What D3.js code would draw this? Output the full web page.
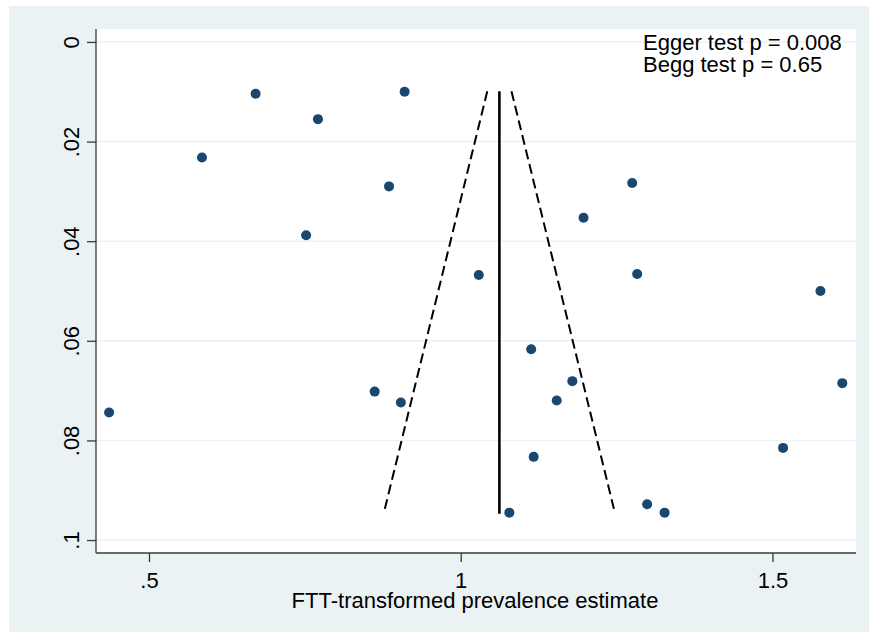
<!DOCTYPE html>
<html><head><meta charset="utf-8">
<script src="https://cdn.jsdelivr.net/npm/d3@7"></script>
<style>body{margin:0;background:#fff}svg{display:block}text{font-family:"Liberation Sans",Arial,Helvetica,sans-serif;fill:#000}</style>
</head><body><div id="chart"></div>
<script>
// Study estimates (FTT-transformed prevalence) and standard errors
const estimates = [0.436,0.585,0.671,0.771,0.910,0.885,0.752,0.862,0.904,1.029,1.113,1.179,1.154,1.117,1.078,1.197,1.275,1.283,1.299,1.327,1.517,1.577,1.612];
const stdErrors = [0.0744,0.0232,0.0104,0.0155,0.0100,0.0290,0.0388,0.0702,0.0724,0.0468,0.0617,0.0681,0.0720,0.0833,0.0945,0.0353,0.0283,0.0466,0.0928,0.0945,0.0815,0.0500,0.0685];
const pooledEstimate = 1.062;
const seRange = [0.0099, 0.0947];
const xTicks = [0.5, 1, 1.5];
const xTickLabels = [".5", "1", "1.5"];
const yTicks = [0, 0.02, 0.04, 0.06, 0.08, 0.1];
const yTickLabels = ["0", ".02", ".04", ".06", ".08", ".1"];
const testLabels = ["Egger test p = 0.008", "Begg test p = 0.65"];
const xTitle = "FTT-transformed prevalence estimate";

const W = 869, H = 632, FS = 22;
const plot = {l: 96, r: 856, t: 29, b: 553};
const svg = d3.select("#chart").append("svg").attr("width", W).attr("height", H);
svg.append("rect").attr("x", 9).attr("y", 6).attr("width", W - 9).attr("height", H - 6).attr("fill", "#eaf2f3");
svg.append("rect").attr("x", plot.l).attr("y", plot.t).attr("width", plot.r - plot.l).attr("height", plot.b - plot.t).attr("fill", "#fff");

const x = d3.scaleLinear().domain([0.415, 1.634]).range([plot.l, plot.r]);
const y = d3.scaleLinear().domain([-0.0026, 0.1026]).range([plot.t, plot.b]);

// gridlines
svg.append("g").selectAll("line").data(yTicks).join("line")
  .attr("x1", plot.l).attr("x2", plot.r).attr("y1", d => y(d)).attr("y2", d => y(d))
  .attr("stroke", "#eaf2f3").attr("stroke-width", 1.6);

// axes
const axColor = "#3a3a3a";
const yAxis = svg.append("g").attr("transform", `translate(${plot.l},0)`)
  .call(d3.axisLeft(y).tickValues(yTicks).tickFormat((d, i) => yTickLabels[i]).tickSize(9).tickSizeOuter(0));
yAxis.select(".domain").attr("d", `M0,${plot.t}V${plot.b}`).attr("stroke", axColor).attr("stroke-width", 1.3);
yAxis.selectAll(".tick line").attr("stroke", axColor).attr("stroke-width", 1.3);
yAxis.selectAll(".tick text").attr("font-size", FS).attr("fill", "#000")
  .attr("transform", "rotate(-90)").attr("x", 0).attr("y", -17).attr("dy", 0).attr("text-anchor", "middle");

const xAxis = svg.append("g").attr("transform", `translate(0,${plot.b})`)
  .call(d3.axisBottom(x).tickValues(xTicks).tickFormat((d, i) => xTickLabels[i]).tickSize(9).tickSizeOuter(0));
xAxis.select(".domain").attr("d", `M${plot.l},0H${plot.r}`).attr("stroke", axColor).attr("stroke-width", 1.3);
xAxis.selectAll(".tick line").attr("stroke", axColor).attr("stroke-width", 1.3);
xAxis.selectAll(".tick text").attr("font-size", FS).attr("fill", "#000").attr("y", 34.5).attr("dy", 0);
svg.selectAll(".tick text").style("font-family", '"Liberation Sans",Arial,sans-serif');

// pooled line
svg.append("line").attr("x1", x(pooledEstimate)).attr("x2", x(pooledEstimate))
  .attr("y1", y(seRange[0])).attr("y2", y(seRange[1])).attr("stroke", "#000").attr("stroke-width", 2.6);

// funnel pseudo-95% CI lines
[-1, 1].forEach(s => {
  svg.append("line")
    .attr("x1", x(pooledEstimate + s * 1.96 * seRange[0])).attr("y1", y(seRange[0]))
    .attr("x2", x(pooledEstimate + s * 1.96 * seRange[1])).attr("y2", y(seRange[1]))
    .attr("stroke", "#000").attr("stroke-width", 2).attr("stroke-dasharray", "10,5");
});

// points
svg.append("g").selectAll("circle").data(estimates).join("circle")
  .attr("cx", d => x(d)).attr("cy", (d, i) => y(stdErrors[i])).attr("r", 5)
  .attr("fill", "#1a476f");

// test text
svg.append("g").selectAll("text").data(testLabels).join("text")
  .attr("x", 643).attr("y", (d, i) => 50 + i * 22).attr("font-size", FS).text(d => d);

// axis title
svg.append("text").attr("x", (plot.l + plot.r) / 2 - 1).attr("y", 608).attr("text-anchor", "middle")
  .attr("font-size", FS).text(xTitle);
</script></body></html>
